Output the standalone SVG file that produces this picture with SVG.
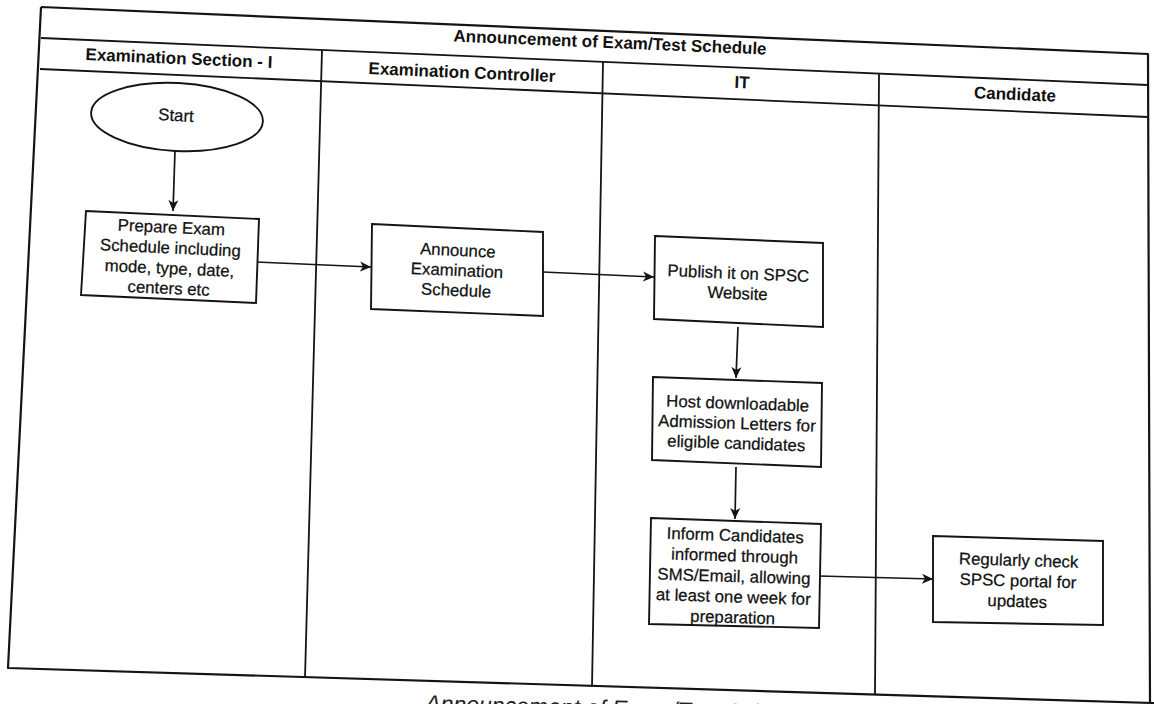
<svg xmlns="http://www.w3.org/2000/svg" width="1154" height="704" viewBox="0 0 1154 704">
  <defs>
    <style>
      .frame { fill: none; stroke: #141414; stroke-width: 2.2; stroke-linejoin: round; }
      .lane { fill: none; stroke: #141414; stroke-width: 1.8; }
      .box { fill: #ffffff; stroke: #141414; stroke-width: 1.9; stroke-linejoin: miter; }
      .edge { fill: none; stroke: #141414; stroke-width: 1.7; marker-end: url(#arrow); }
      .hdr { font-family: "Liberation Sans", Arial, sans-serif; font-weight: bold; font-size: 17px; fill: #111111; text-anchor: middle; }
      .lbl { font-family: "Liberation Sans", Arial, sans-serif; font-size: 16.8px; fill: #111111; stroke: #111111; stroke-width: 0.25; text-anchor: middle; }
      .cap { font-family: "Liberation Sans", Arial, sans-serif; font-style: italic; font-size: 23px; fill: #222222; }
    </style>
    <marker id="arrow" markerUnits="userSpaceOnUse" markerWidth="12" markerHeight="12" viewBox="0 0 12 12" refX="11" refY="6" orient="auto">
      <path d="M0,1 L11,6 L0,11 L3,6 Z" fill="#141414"/>
    </marker>
  </defs>

  <rect width="1154" height="704" fill="#ffffff"/>

  <!-- swimlane frame -->
  <g id="pool">
    <path class="frame" d="M41,7 L1148,54 L1150,704 M41,7 L8,668 L1154,703"/>
    <path class="lane" d="M41,38 L1148,85"/>
    <path class="lane" d="M40,69 L1148,117"/>
    <path class="lane" d="M322,50 L305,678"/>
    <path class="lane" d="M603,62 L592,687"/>
    <path class="lane" d="M879,73 L875,695"/>
    <text class="hdr" x="610" y="48" transform="rotate(2.4 610 43)">Announcement of Exam/Test Schedule</text>
  </g>

  <!-- lane headers -->
  <g id="lane-exam-section">
    <text class="hdr" x="179" y="64" transform="rotate(2.4 179 58)">Examination Section - I</text>
  </g>
  <g id="lane-exam-controller">
    <text class="hdr" x="462" y="78" transform="rotate(2.4 462 72)">Examination Controller</text>
  </g>
  <g id="lane-it">
    <text class="hdr" x="742" y="88" transform="rotate(2.4 742 82)">IT</text>
  </g>
  <g id="lane-candidate">
    <text class="hdr" x="1015" y="100" transform="rotate(2.4 1015 94)">Candidate</text>
  </g>

  <!-- connectors -->
  <g id="connectors">
    <path class="edge" d="M175,151 L173,211"/>
    <path class="edge" d="M256,262 L371,267"/>
    <path class="edge" d="M543,272 L654,277"/>
    <path class="edge" d="M738,327 L736,378"/>
    <path class="edge" d="M736,467 L735,519"/>
    <path class="edge" d="M819,576 L933,579"/>
  </g>

  <!-- nodes -->
  <g id="start">
    <ellipse class="box" cx="177" cy="117" rx="86" ry="34" transform="rotate(3 177 117)"/>
    <text class="lbl" x="176" y="121" transform="rotate(3 176 115)">Start</text>
  </g>

  <g id="prepare-schedule">
    <polygon class="box" points="86,211 259,219 256,303 81,295"/>
    <g transform="rotate(2.6 170 257)">
      <text class="lbl" x="170" y="233">Prepare Exam</text>
      <text class="lbl" x="170" y="253.5">Schedule including</text>
      <text class="lbl" x="170" y="274">mode, type, date,</text>
      <text class="lbl" x="170" y="294">centers etc</text>
    </g>
  </g>

  <g id="announce-schedule">
    <polygon class="box" points="372,224 543,232 543,316 371,309"/>
    <g transform="rotate(2.6 457 270)">
      <text class="lbl" x="457" y="256">Announce</text>
      <text class="lbl" x="457" y="276">Examination</text>
      <text class="lbl" x="457" y="296">Schedule</text>
    </g>
  </g>

  <g id="publish-website">
    <polygon class="box" points="655,236 823,243 823,327 654,319"/>
    <g transform="rotate(2.4 738 282)">
      <text class="lbl" x="738" y="279">Publish it on SPSC</text>
      <text class="lbl" x="738" y="299">Website</text>
    </g>
  </g>

  <g id="host-admission-letters">
    <polygon class="box" points="653,377 822,383 821,467 652,460"/>
    <g transform="rotate(2 737 422)">
      <text class="lbl" x="737" y="409">Host downloadable</text>
      <text class="lbl" x="737" y="429">Admission Letters for</text>
      <text class="lbl" x="737" y="449">eligible candidates</text>
    </g>
  </g>

  <g id="inform-candidates">
    <polygon class="box" points="651,518 821,524 819,628 649,624"/>
    <g transform="rotate(1.8 734 575)">
      <text class="lbl" x="734" y="541">Inform Candidates</text>
      <text class="lbl" x="734" y="561.5">informed through</text>
      <text class="lbl" x="734" y="582">SMS/Email, allowing</text>
      <text class="lbl" x="734" y="602.5">at least one week for</text>
      <text class="lbl" x="734" y="623">preparation</text>
    </g>
  </g>

  <g id="check-portal">
    <polygon class="box" points="933,536 1103,541 1103,625 933,622"/>
    <g transform="rotate(1.8 1018 580)">
      <text class="lbl" x="1018" y="566">Regularly check</text>
      <text class="lbl" x="1018" y="586.5">SPSC portal for</text>
      <text class="lbl" x="1018" y="607">updates</text>
    </g>
  </g>

  <!-- figure caption, running off the lower edge -->
  <text class="cap" x="425" y="716" transform="rotate(1.6 600 716)">Announcement of Exam/Test Schedule</text>
</svg>
